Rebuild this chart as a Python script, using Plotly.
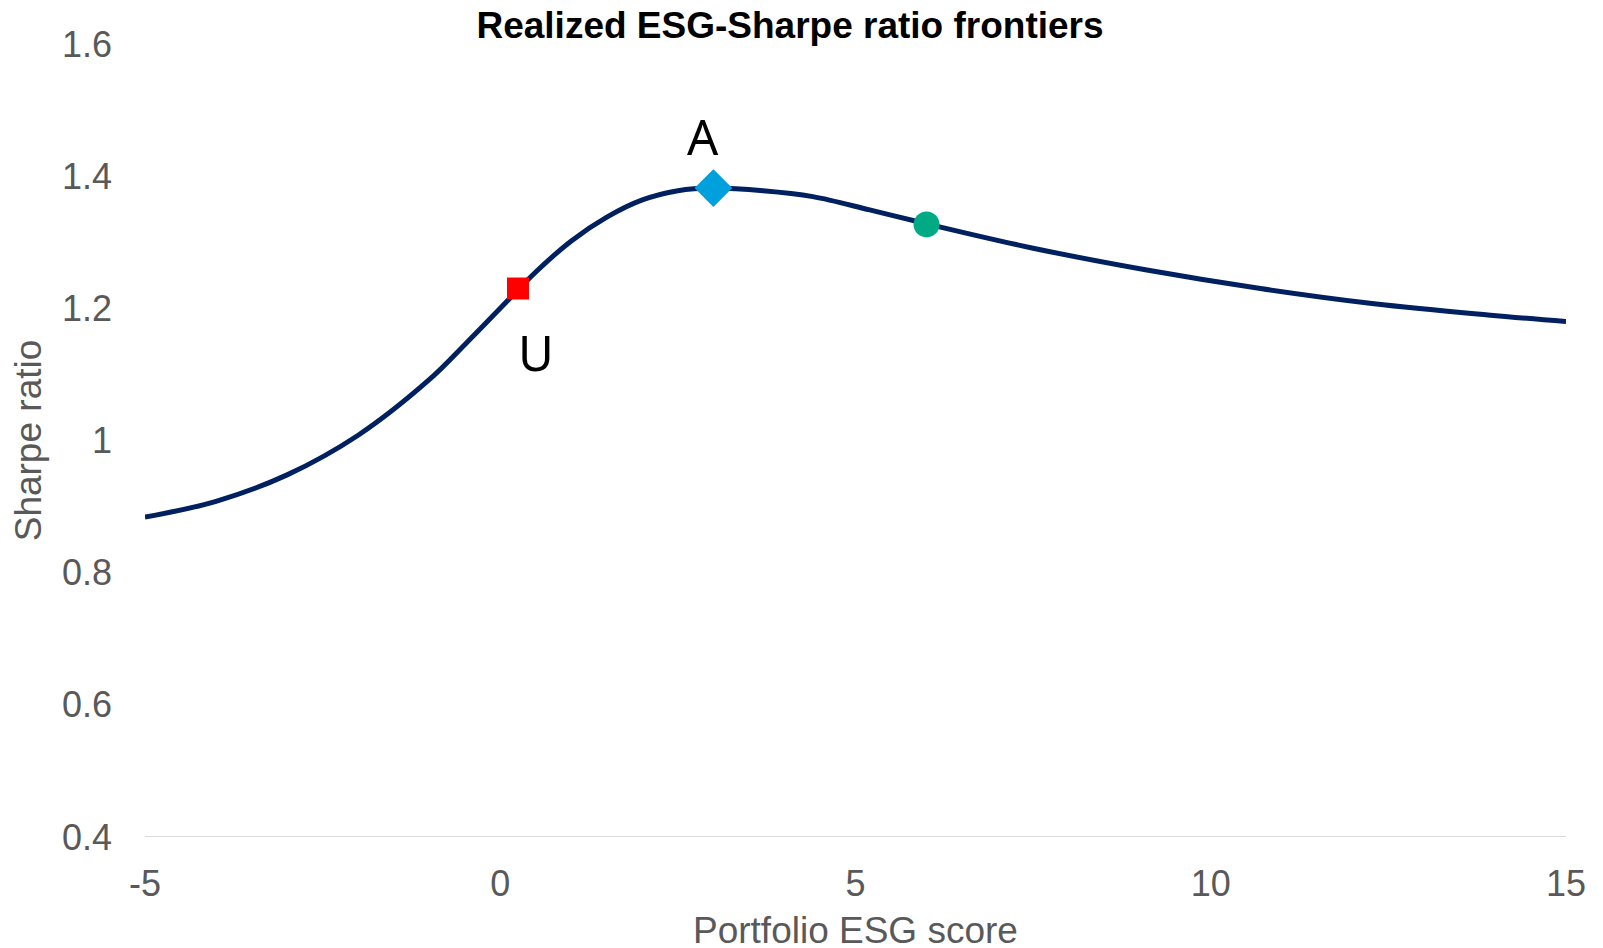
import plotly.graph_objects as go

# Frontier
esg_score = [-5, -4, -3, -2, -1, -0.5, 0, 0.5, 1, 1.5, 2, 2.5, 3,
             3.7, 4.4, 5.2, 6, 7.5, 9.1, 10.7, 12.3, 13.9, 15]
sharpe = [0.884, 0.908, 0.948, 1.008, 1.092, 1.145, 1.200, 1.255, 1.302, 1.338, 1.364, 1.378, 1.382,
          1.378, 1.369, 1.349, 1.328, 1.291, 1.258, 1.230, 1.207, 1.190, 1.180]

# Highlighted portfolios
u_point = (0.25, 1.230)
a_point = (3.0, 1.382)
g_point = (6.0, 1.327)

x_ticks = [-5, 0, 5, 10, 15]
x_tick_text = ["-5", "0", "5", "10", "15"]
y_ticks = [0.4, 0.6, 0.8, 1.0, 1.2, 1.4, 1.6]
y_tick_text = ["0.4", "0.6", "0.8", "1", "1.2", "1.4", "1.6"]

fig = go.Figure()

fig.add_trace(go.Scatter(x=esg_score, y=sharpe, mode="lines",
                         line=dict(color="#002060", width=5, shape="spline", smoothing=1.0),
                         hoverinfo="skip", showlegend=False))

fig.add_trace(go.Scatter(x=[u_point[0]], y=[u_point[1]], mode="markers",
                         marker=dict(symbol="square", size=22, color="#FF0000"), showlegend=False))
fig.add_trace(go.Scatter(x=[a_point[0]], y=[a_point[1]], mode="markers",
                         marker=dict(symbol="diamond", size=29, color="#00A0DC"), showlegend=False))
fig.add_trace(go.Scatter(x=[g_point[0]], y=[g_point[1]], mode="markers",
                         marker=dict(symbol="circle", size=26, color="#00AA84"), showlegend=False))

# Point labels
fig.add_annotation(x=2.85, y=1.461, text="A", showarrow=False,
                   font=dict(family="Noto Sans", size=49, color="black"))
fig.add_annotation(x=0.50, y=1.134, text="U", showarrow=False,
                   font=dict(family="Noto Sans", size=49, color="black"))

# x axis title sits lower than plotly lets an axis title go, so place it by hand
fig.add_annotation(x=0.5, y=-0.1173, xref="paper", yref="paper", yanchor="middle",
                   text="Portfolio ESG score", showarrow=False,
                   font=dict(family="Liberation Sans, Arial", size=37, color="#595959"))

# page body has an 8px margin, so the figure is a bit smaller than the window
fig.update_layout(
    width=1595, height=940,
    margin=dict(l=137, r=37, t=36, b=111),
    plot_bgcolor="white", paper_bgcolor="white",
    font=dict(family="Liberation Sans, Arial", size=36, color="#595959"),
    title=dict(text="<b>Realized ESG-Sharpe ratio frontiers</b>",
               font=dict(family="Liberation Sans, Arial", size=37, color="black"),
               xref="container", x=0.4903, xanchor="center",
               yref="container", y=0.9824, yanchor="middle"),
)

fig.update_xaxes(range=[-5, 15], tickvals=x_ticks, ticktext=x_tick_text,
                 showgrid=False, zeroline=False, showline=False, automargin=False,
                 ticks="", ticklabelstandoff=22)
fig.update_yaxes(range=[0.4, 1.6], tickvals=y_ticks, ticktext=y_tick_text,
                 showgrid=False, zeroline=False, showline=False, automargin=False,
                 ticks="", ticklabelstandoff=32,
                 title=dict(text="Sharpe ratio", standoff=11,
                            font=dict(size=37, color="#595959")))

# Light baseline at 0.4
fig.add_hline(y=0.4, line=dict(color="#D9D9D9", width=2), layer="below")

fig.write_html("out.html")
